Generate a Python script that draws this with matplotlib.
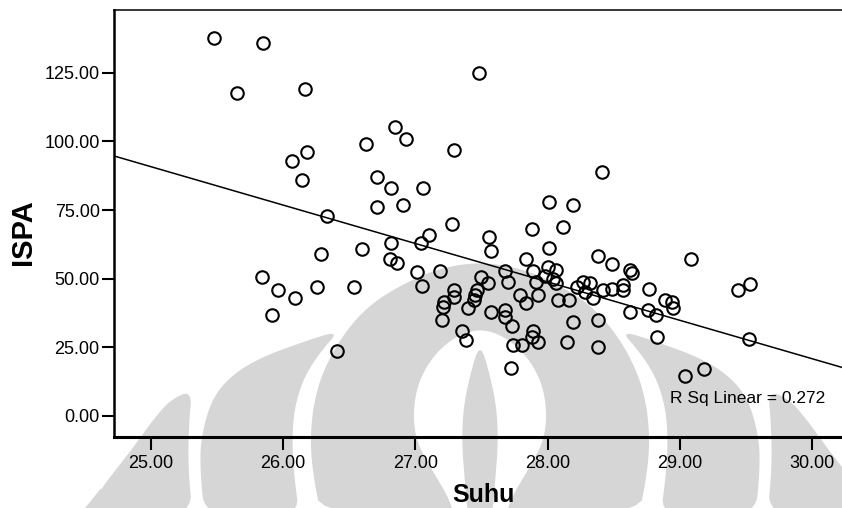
import numpy as np
import matplotlib as mpl
mpl.use('Agg')
import matplotlib.pyplot as plt
from matplotlib.patches import Polygon

# data
suhu = [25.48, 25.85, 25.65, 26.17, 27.48, 26.85, 26.93, 26.63, 26.18, 27.29,
        26.07, 28.41, 26.14, 26.71, 26.82, 27.06, 26.71, 26.91, 28.01, 28.19,
        26.33, 27.28, 28.12, 27.88, 27.10, 27.56, 26.82, 27.04, 26.60, 27.57,
        28.01, 26.29, 28.38, 29.08, 27.84, 26.81, 26.86, 28.49, 28.00, 28.62,
        28.64, 27.19, 27.68, 27.89, 28.06, 27.01, 25.84, 27.50, 27.98, 28.04,
        25.96, 26.09, 26.26, 26.54, 27.05, 27.55, 27.70, 27.91, 28.06, 28.27,
        28.22, 28.32, 28.57, 29.53, 29.44, 27.29, 27.29, 27.47, 27.45, 27.44,
        27.79, 27.93, 28.28, 28.42, 28.49, 28.57, 28.77, 25.92, 27.22, 27.21,
        27.84, 28.08, 28.16, 28.34, 28.89, 28.94, 28.95, 28.76, 28.82, 27.40,
        27.57, 27.68, 27.68, 27.20, 28.62, 27.73, 27.35, 27.38, 27.89, 27.88,
        27.93, 28.19, 28.38, 27.74, 27.81, 26.41, 28.83, 28.15, 28.38, 29.52,
        27.72, 29.04, 29.18]
ispa = [137.7, 135.9, 117.7, 119.1, 125.0, 105.3, 100.9, 99.1, 96.2, 96.9,
        92.9, 88.9, 86.0, 87.1, 83.1, 83.1, 76.1, 76.9, 78.0, 76.9,
        72.9, 69.9, 68.9, 68.1, 65.9, 65.2, 63.0, 63.0, 60.8, 60.1,
        61.2, 59.0, 58.3, 57.2, 57.2, 57.2, 55.7, 55.4, 54.3, 53.2,
        52.1, 52.8, 52.8, 52.8, 53.2, 52.5, 50.6, 50.6, 51.0, 49.9,
        45.9, 43.0, 47.0, 47.0, 47.4, 48.5, 48.8, 48.8, 48.5, 48.8,
        47.0, 48.5, 47.7, 48.1, 45.9, 45.9, 43.4, 45.9, 44.1, 42.3,
        44.1, 44.1, 45.2, 45.9, 46.3, 45.9, 46.3, 36.8, 41.5, 39.7,
        41.2, 42.3, 42.3, 43.0, 42.3, 41.5, 39.3, 38.6, 36.8, 39.3,
        37.9, 38.6, 36.1, 35.0, 37.9, 32.8, 31.0, 27.7, 31.0, 28.8,
        27.0, 34.2, 35.0, 25.9, 25.9, 23.7, 28.8, 27.0, 25.1, 28.1,
        17.5, 14.6, 17.1]

# fit line ends as drawn
fit_x = [24.725, 30.225]
fit_y = [94.7, 17.7]
r2_text = 'R Sq Linear = 0.272'

xticks = [25, 26, 27, 28, 29, 30]
yticks = [0, 25, 50, 75, 100, 125]

plt.rcParams['font.family'] = ['Liberation Sans', 'DejaVu Sans']

W, H = 842, 508
fig = plt.figure(figsize=(W/100, H/100), dpi=100)

# faint scanned watermark behind the chart (pixel coords, y down)
bg = fig.add_axes([0, 0, 1, 1], zorder=0)
bg.set_xlim(0, W)
bg.set_ylim(H, 0)
bg.axis('off')

CX = 480
gray = '#d6d6d6'

def mirror(pts):
    return [(2*CX - x, y) for x, y in pts]

def smooth(pts, n=3):
    p = np.array(pts, float)
    for k in range(n):
        q = np.roll(p, -1, axis=0)
        p = np.concatenate([0.75*p + 0.25*q, 0.25*p + 0.75*q], axis=1).reshape(-1, 2)
    return p

def blob(pts, color):
    bg.add_patch(Polygon(smooth(pts), closed=True, facecolor=color, edgecolor='none'))

hornC_out = [(192, 390), (170, 400), (153, 420), (135, 445), (118, 467), (100, 490), (86, 520)]
hornC_in = [(189, 423), (188, 467), (193, 520)]
bandB_out = [(340, 330), (300, 343), (262, 357), (233, 374), (212, 398), (201, 437), (200, 470), (205, 520)]
bandB_in = [(322, 350), (305, 375), (295, 405), (292, 437), (294, 475), (300, 520)]
onion = [(480, 262), (440, 268), (405, 283), (372, 303), (348, 328), (328, 360),
         (315, 395), (310, 437), (313, 475), (322, 520)]
hole = [(480, 328), (452, 338), (428, 362), (414, 395), (414, 437), (432, 470), (450, 500), (455, 520)]
flame = [(480, 342), (470, 375), (463, 410), (462, 445), (465, 483), (468, 520)]

for side in [lambda p: p, mirror]:
    blob(side(hornC_out + hornC_in[::-1]), gray)
    blob(side(bandB_out + bandB_in[::-1]), gray)
blob([(103, 485), (92, 500), (74, 520), (96, 520), (100, 500)], gray)
blob(onion + mirror(onion)[::-1][:-1], gray)
blob(hole + mirror(hole)[::-1][:-1], 'white')
blob(flame + mirror(flame)[::-1][:-1], gray)

# main chart
ax = fig.add_axes([114.3/W, 1 - 437/H, 1 - 114.3/W, 427/H], zorder=1)
ax.set_facecolor('none')

ax.plot(fit_x, fit_y, '-', color='black', lw=1.1, zorder=2)
ax.plot(suhu, ispa, 'o', ms=9, mfc='none', mec='black', mew=1.5, zorder=3)

ax.set_xlim(24.725, 30.225)
ax.set_ylim(-7.65, 147.9)
ax.set_xticks(xticks)
ax.set_yticks(yticks)
ax.set_xticklabels(['%.2f' % v for v in xticks], fontsize=13)
ax.set_yticklabels(['%.2f' % v for v in yticks], fontsize=13)
ax.tick_params(axis='y', length=8.5, width=1.5, pad=2)
ax.tick_params(axis='x', length=9, width=1.5, pad=4)

ax.spines['right'].set_visible(False)
ax.spines['left'].set_linewidth(1.8)
ax.spines['bottom'].set_linewidth(2.2)
ax.spines['top'].set_linewidth(1.1)

ax.text(28.925, 6.2, r2_text, fontsize=12.5, va='center', ha='left')

# axis titles placed in figure pixels
fig.text(483/W, 1 - 495/H, 'Suhu', fontsize=18, fontweight='bold', ha='center', va='center')
fig.text(23/W, 1 - 232/H, 'ISPA', fontsize=21, fontweight='bold', rotation=90,
         ha='center', va='center')

plt.savefig('out.png', dpi=100)
